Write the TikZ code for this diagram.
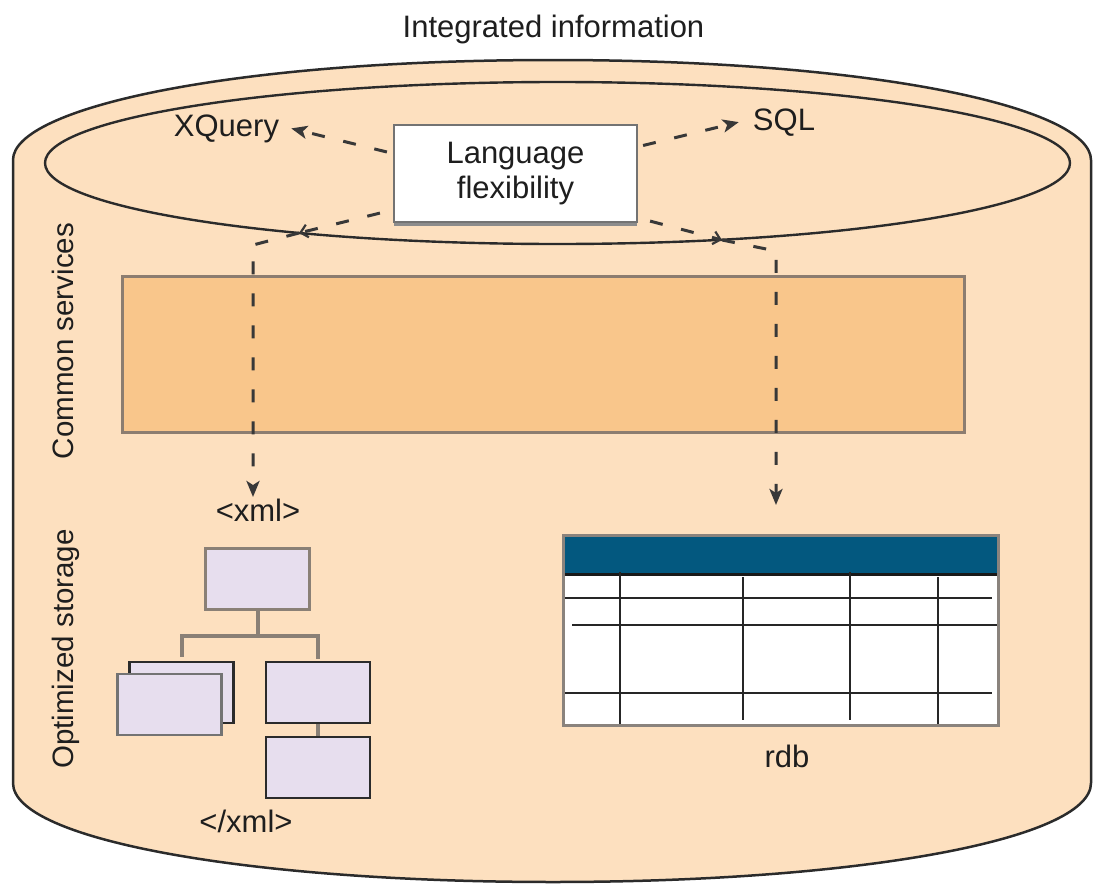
\documentclass[tikz,border=0pt]{standalone}
\usepackage{fontspec}
\setmainfont{Liberation Sans}
\usetikzlibrary{arrows.meta}
\definecolor{ink}{HTML}{1E1E1E}
\definecolor{dashc}{HTML}{383838}
\definecolor{peach}{HTML}{FDE0BF}
\definecolor{svc}{HTML}{F9C68B}
\definecolor{svcline}{HTML}{8C7D70}
\definecolor{lav}{HTML}{E7DEEE}
\definecolor{treec}{HTML}{8A8076}
\definecolor{hdr}{HTML}{03587F}
\definecolor{tblframe}{HTML}{8A837D}
\definecolor{outline}{HTML}{2B2B2B}
\begin{document}
\begin{tikzpicture}[x=1pt,y=-1pt,
  txt/.style={font=\fontsize{31}{35}\selectfont, inner sep=0pt, text=ink},
  sidetxt/.style={font=\fontsize{29.5}{34}\selectfont, inner sep=0pt, text=ink, rotate=90, anchor=base},
  dashline/.style={draw=dashc, line width=3pt, dash pattern=on 13pt off 19pt},
  tip/.style={-{Stealth[length=16pt,width=13pt,inset=4pt]}},
  midtip/.style={-{Straight Barb[length=7pt,width=13pt,line width=2.2pt]}},
  xbox/.style={draw=#1, fill=lav, line width=2.6pt, minimum width=104pt, minimum height=61pt, inner sep=0pt},
  treeline/.style={draw=treec, line width=4pt}
]
\useasboundingbox (0,0) rectangle (1093,886);

% cylinder body
\draw[fill=peach, draw=outline, line width=2.5pt]
  (13,783) -- (13,160) .. controls (13,108) and (230,60) .. (553,60)
  .. controls (876,60) and (1091,108) .. (1091,160) -- (1091,783)
  .. controls (1091,840) and (856,882) .. (553,882)
  .. controls (250,882) and (13,840) .. (13,783) -- cycle;
% top rim
\draw[draw=outline, line width=2.4pt] (557.5,163) ellipse [x radius=512.5, y radius=81];

% points where the language links cross the rim
\coordinate (lhit) at (299,233);
\coordinate (rhit) at (722,240);
\coordinate (lbend) at (253,245);
\coordinate (rbend) at (776,251);
\coordinate (xmltip) at (253,497);
\coordinate (rdbtip) at (776,505);

% common services band
\node[draw=svcline, fill=svc, line width=3pt, minimum width=842pt, minimum height=156pt, inner sep=0pt] (svcband) at (543,354) {};

% language box
\fill[black!45] (394,128) rectangle (637,225.5);
\node[draw=black!55, fill=white, line width=2.2pt, minimum width=243pt, minimum height=97pt, align=center, txt] (lang) at (515.5,173.5) {Language\\flexibility};

% labels
\node[txt, anchor=base] (title) at (553.5,37) {Integrated information};
\node[txt, anchor=base] (xq) at (226.5,136) {XQuery};
\node[txt, anchor=base] (sql) at (784,130) {SQL};
\node[txt, anchor=base] (xmlopen) at (258,521) {<xml>};
\node[txt, anchor=base] (xmlclose) at (246,832) {</xml>};
\node[txt, anchor=base] (rdb) at (787,767) {rdb};
\node[sidetxt] (cs) at (73,341) {Common services};
\node[sidetxt] (os) at (73,649) {Optimized storage};

% language links
\draw[dashline,tip] ([shift={(-6pt,21.5pt)}]lang.west) -- ([xshift=12pt]xq.east);
\draw[dashline,tip] ([shift={(5pt,28pt)}]lang.east) -- ([xshift=-14pt]sql.west);
\draw[dashline,midtip] ([shift={(-13pt,10pt)}]lang.south west) -- (lhit);
\draw[dashline,tip] (lhit) -- (lbend) -- (xmltip);
\draw[dashline,midtip] ([shift={(12pt,2pt)}]lang.south east) -- (rhit);
\draw[dashline,tip] (rhit) -- (rbend) -- (rdbtip);

% xml tree
\node[xbox=treec] (xtop) at (257.5,579) {};
\draw[treeline] (xtop.south) -- ++(0,25) coordinate (xj);
\node[xbox=outline] (xback) at (181.5,692.5) {};
\node[xbox=black!55] (xfront) at (169.5,704.5) {};
\node[xbox=outline] (xr1) at (318,692.5) {};
\node[xbox=outline] (xr2) at (318,767.5) {};
\draw[treeline] ([yshift=4pt]xback.north) |- (xj) -| ([yshift=2pt]xr1.north);
\draw[treeline] (xr1.south) -- (xr2.north);

% relational table
\node[fill=white, minimum width=434pt, minimum height=189pt, inner sep=0pt] (rdbtab) at (781,630.5) {};
\fill[hdr] (564,536) rectangle (998,573);
\draw[black!90, line width=3pt] (564,574) -- (998,574);
\draw[black!85, line width=2pt]
  (564,598) -- (992,598)
  (572,625) -- (998,625)
  (564,693) -- (992,693)
  (620,572) -- (620,725)
  (743,577) -- (743,720)
  (850,572) -- (850,720)
  (938,577) -- (938,725);
\draw[tblframe, line width=3pt] (rdbtab.north west) rectangle (rdbtab.south east);
\end{tikzpicture}
\end{document}
